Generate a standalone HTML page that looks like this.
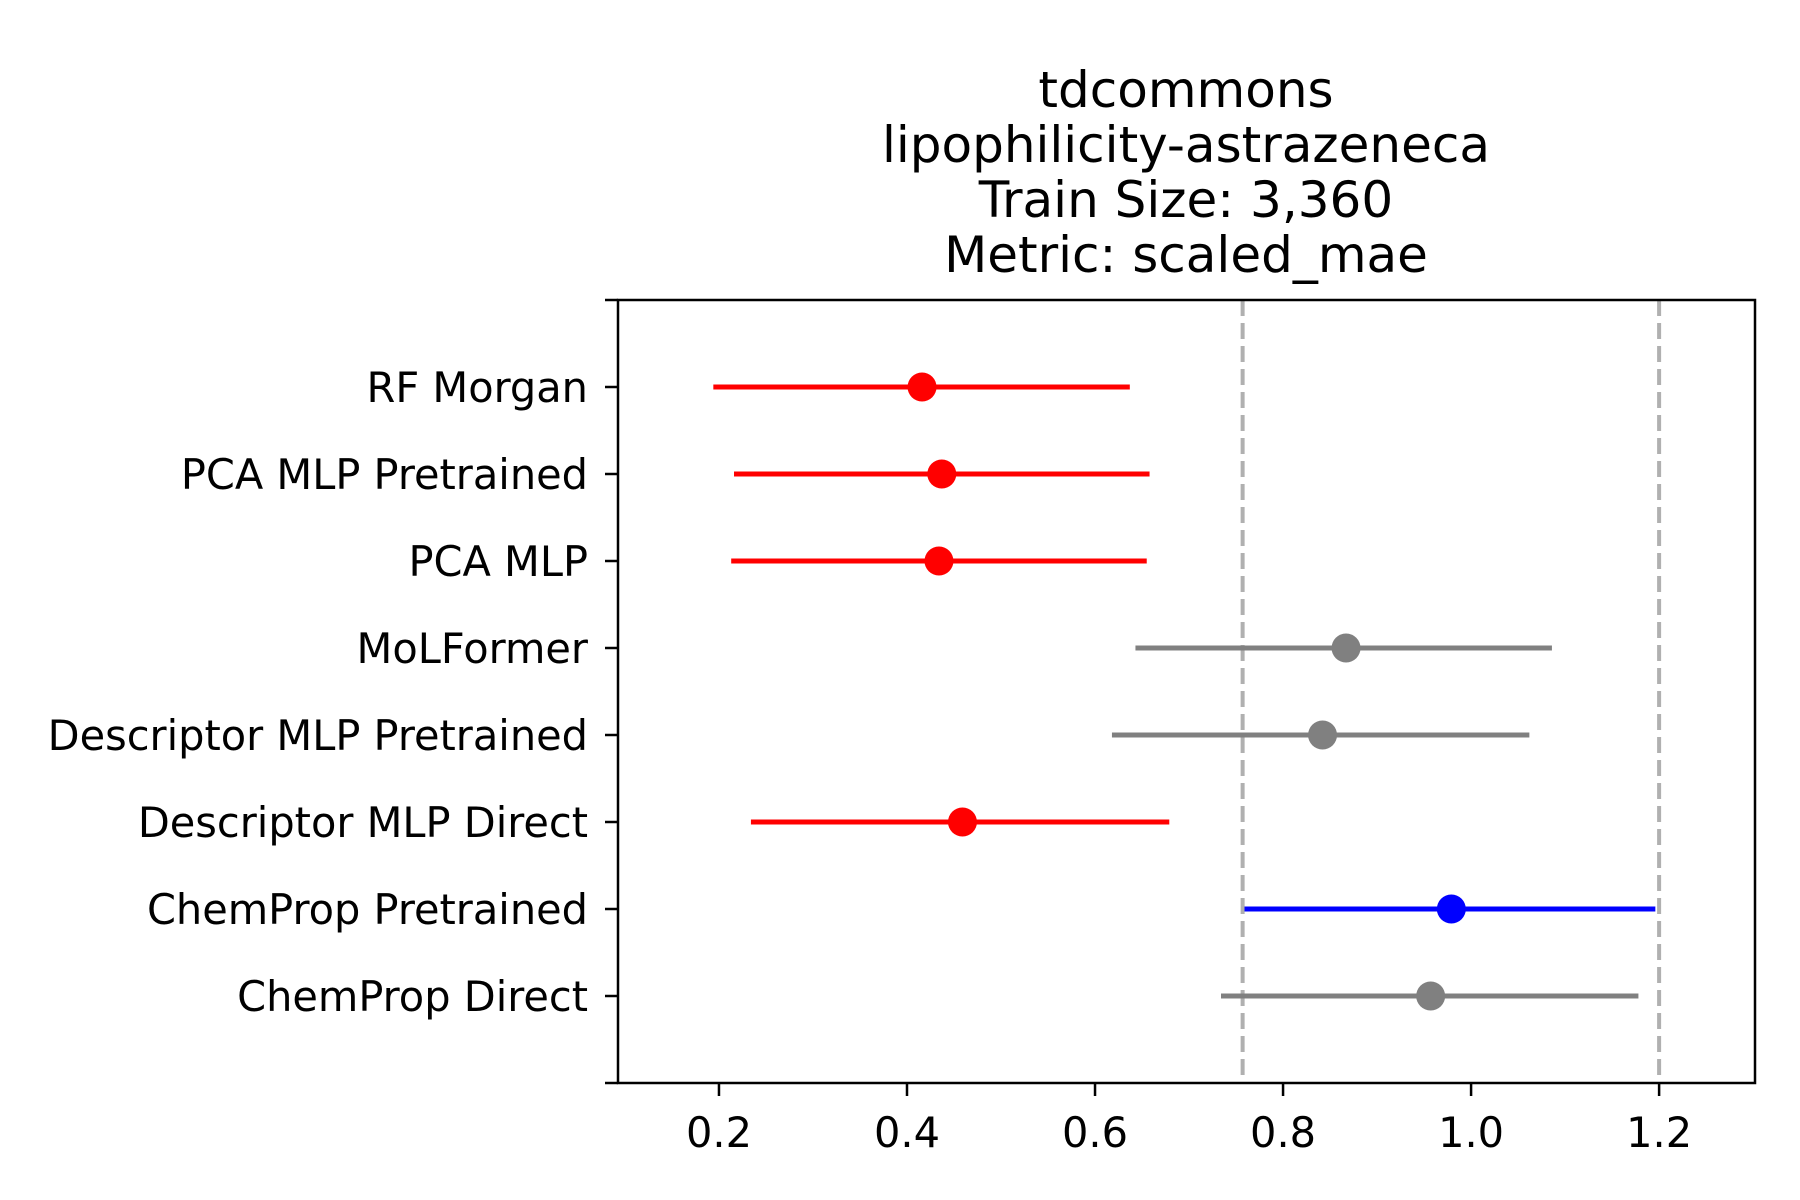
<!DOCTYPE html>
<html><head><meta charset="utf-8"><style>
html,body{margin:0;padding:0;background:#fff;}
svg{display:block;font-family:"DejaVu Sans","Liberation Sans",sans-serif;}
</style></head><body>
<svg id="chart" width="1800" height="1200" viewBox="0 0 1800 1200" xmlns="http://www.w3.org/2000/svg">
<rect width="1800" height="1200" fill="#fff"/>
<g font-size="50" text-anchor="middle" fill="#000">
<text x="1186" y="107">tdcommons</text>
<text x="1186" y="162">lipophilicity-astrazeneca</text>
<text x="1186" y="217">Train Size: 3,360</text>
<text x="1186" y="272">Metric: scaled_mae</text>
</g>
<g id="plot"></g>
</svg>
<script>
const models = ["RF Morgan","PCA MLP Pretrained","PCA MLP","MoLFormer","Descriptor MLP Pretrained","Descriptor MLP Direct","ChemProp Pretrained","ChemProp Direct"];
const means = [0.416,0.437,0.434,0.867,0.842,0.459,0.979,0.957];
const lows = [0.194,0.216,0.213,0.643,0.618,0.234,0.759,0.734];
const highs = [0.637,0.658,0.655,1.086,1.062,0.679,1.196,1.178];
const colors = ["red","red","red","gray","gray","red","blue","gray"];
const refLines = [0.757,1.2];
const xTicks = [0.2,0.4,0.6,0.8,1.0,1.2];

const L=618,R=1755,T=300,B=1083;
const xMin=0.0926,xMax=1.302,yMin=-1,yMax=8;
const sx=v=>L+(v-xMin)/(xMax-xMin)*(R-L);
const sy=i=>T+(i-yMin)/(yMax-yMin)*(B-T);
const NS="http://www.w3.org/2000/svg";
const g=document.getElementById('plot');
function mk(tag,attrs){const e=document.createElementNS(NS,tag);for(const k in attrs)e.setAttribute(k,attrs[k]);g.appendChild(e);return e;}

refLines.forEach((v,i)=>{
 const e=mk('line',{x1:sx(v),x2:sx(v),y1:T,y2:B,stroke:'#b0b0b0','stroke-width':4,'stroke-dasharray':'16,7'});
 
 
});
models.forEach((m,i)=>{
 const y=sy(i);
 const l=mk('line',{x1:sx(lows[i]),x2:sx(highs[i]),y1:y,y2:y,stroke:colors[i],'stroke-width':5});
 
 
 const c=mk('circle',{cx:sx(means[i]),cy:y,r:14.5,fill:colors[i]});
 
 
 const t=mk('line',{x1:L-13,x2:L,y1:y,y2:y,stroke:'#000','stroke-width':2.5});
 
 
 const tx=mk('text',{x:588,y:y+15,'font-size':41.5,'text-anchor':'end',fill:'#000'});
 tx.textContent=m;
 
 
});
[yMin,yMax].forEach(v=>{
 const t=mk('line',{x1:L-13,x2:L,y1:sy(v),y2:sy(v),stroke:'#000','stroke-width':2.5});
 
 
});
xTicks.forEach(v=>{
 const t=mk('line',{x1:sx(v),x2:sx(v),y1:B,y2:B+13,stroke:'#000','stroke-width':2.5});
 
 
 const tx=mk('text',{x:sx(v),y:1147,'font-size':41.5,'text-anchor':'middle',fill:'#000'});
 tx.textContent=v.toFixed(1);
 
 
});
const f=mk('rect',{x:L,y:T,width:R-L,height:B-T,fill:'none',stroke:'#000','stroke-width':2.5});


</script>
</body></html>
